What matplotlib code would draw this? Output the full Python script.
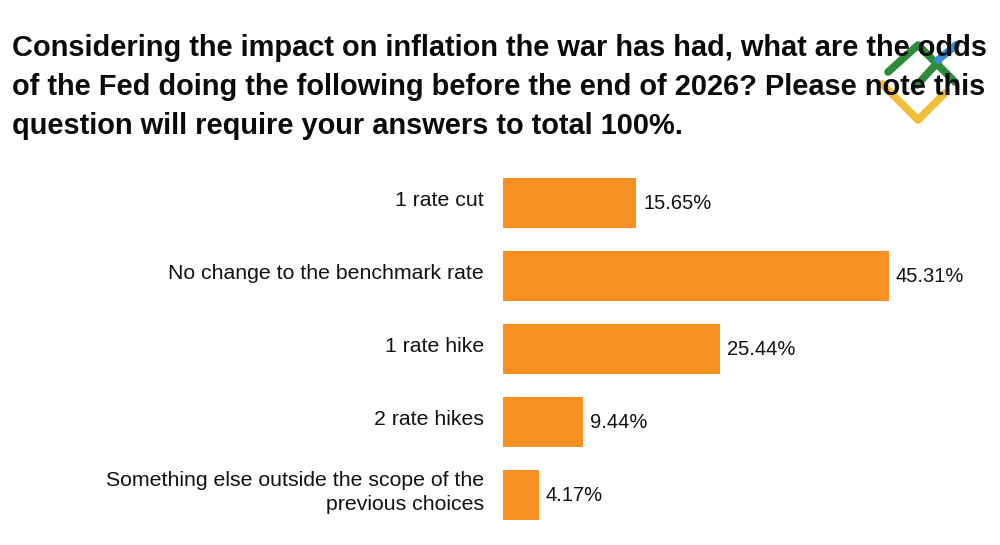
import matplotlib.pyplot as plt
from matplotlib.lines import Line2D

plt.rcParams['font.family'] = ['Liberation Sans', 'DejaVu Sans']

# Data
categories = [
    "1 rate cut",
    "No change to the benchmark rate",
    "1 rate hike",
    "2 rate hikes",
    "Something else outside the scope of the\nprevious choices",
]
values = [15.65, 45.31, 25.44, 9.44, 4.17]
value_labels = ["15.65%", "45.31%", "25.44%", "9.44%", "4.17%"]

title_lines = [
    "Considering the impact on inflation the war has had, what are the odds",
    "of the Fed doing the following before the end of 2026? Please note this",
    "question will require your answers to total 100%.",
]

W, H = 1000, 545
fig = plt.figure(figsize=(W / 100, H / 100), dpi=100)

# bars axis: x starts at px 503, 8.52 px per percent
ax = fig.add_axes([503 / W, 0, 497 / W, 1])
ax.set_xlim(0, 497 / 8.52)
ax.set_ylim(4 + 50 / 73, -203 / 73)
ax.axis("off")

pos = list(range(len(categories)))
ax.barh(pos, values, height=0.685, color="#F89022")
for p, v, lab in zip(pos, values, value_labels):
    ax.text(v + 0.8, p + 6 / 73, lab, va="baseline", ha="left", fontsize=14.5, color="#111111")

# category labels (baseline = last line's baseline for multi-line text)
for p, c in zip(pos, categories):
    n = c.count("\n")
    fig.text(484 / W, 1 - (203 + 73 * p + 3 + n * 12) / H, c, ha="right", va="baseline",
             fontsize=15.3, color="#111111", linespacing=1.36, multialignment="right")

for i, line in enumerate(title_lines):
    fig.text(12 / W, 1 - (56 + 39 * i) / H, line, ha="left", va="baseline",
             fontsize=20.9, fontweight="bold", color="#0a0a0a")


# logo watermark (pixel coords -> figure coords)
def seg(pts, color):
    xs = [x / W for x, y in pts]
    ys = [1 - y / H for x, y in pts]
    fig.add_artist(Line2D(xs, ys, transform=fig.transFigure, color=color, lw=5.5,
                          solid_capstyle="round", solid_joinstyle="round"))


seg([(882, 84), (918, 120), (945, 93)], "#F2BE3A")
seg([(888, 72), (918, 45), (955, 82)], "#2E8B3E")
seg([(917, 85), (938, 62)], "#2E8B3E")
seg([(938, 60), (956, 45)], "#3A8ED8")

fig.savefig("out.png", dpi=100, facecolor="white")
